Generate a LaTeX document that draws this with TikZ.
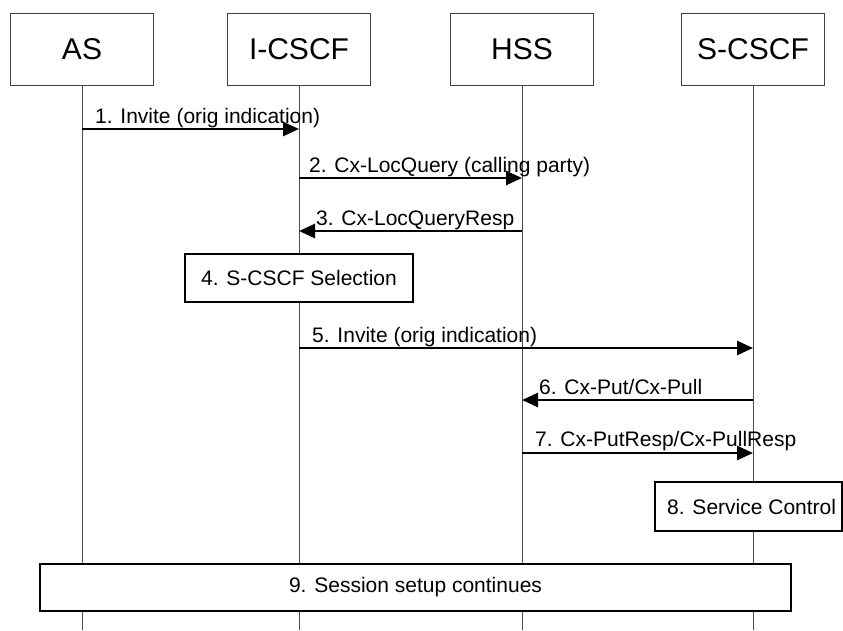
\documentclass[tikz,border=0pt]{standalone}
\usepackage{fontspec}
\setmainfont{Liberation Sans}
\usetikzlibrary{arrows.meta}
\begin{document}
\begin{tikzpicture}[x=1pt,y=-1pt,
  head/.style={draw=black!75,line width=0.8pt,fill=white,minimum width=143pt,minimum height=72pt,inner sep=0pt,font=\fontsize{30}{36}\selectfont},
  life/.style={draw=black!70,line width=0.8pt},
  msg/.style={line width=2.6pt,-{Triangle[length=16pt,width=14pt]}},
  lbl/.style={anchor=base west,inner sep=0pt,font=\fontsize{21}{25}\selectfont},
  proc/.style={draw=black,line width=1.8pt,fill=white,inner sep=0pt,font=\fontsize{21}{25}\selectfont}]
\useasboundingbox (0,0) rectangle (843,630);
% headers
\node[head] (as) at (82,49) {AS};
\node[head] (ic) at (299,49) {I-CSCF};
\node[head] (hss) at (522,49) {HSS};
\node[head] (sc) at (753,49) {S-CSCF};
% lifeline ends
\coordinate (asE) at (82,630);
\coordinate (icE) at (299,630);
\coordinate (hssE) at (522,630);
\coordinate (scE) at (753,630);
\draw[life] (as.south) -- (asE);
\draw[life] (ic.south) -- (icE);
\draw[life] (hss.south) -- (hssE);
\draw[life] (sc.south) -- (scE);
% message rows
\coordinate (m1) at (0,129);
\coordinate (m2) at (0,178);
\coordinate (m3) at (0,231);
\coordinate (m5) at (0,348);
\coordinate (m6) at (0,400);
\coordinate (m7) at (0,453);
\draw[msg] (as |- m1) -- (ic |- m1);
\node[lbl] (l1) at (95,123) {1. Invite (orig indication)};
\draw[msg] (ic |- m2) -- (hss |- m2);
\node[lbl] (l2) at (309,172) {2. Cx-LocQuery (calling party)};
\draw[msg] (hss |- m3) -- (ic |- m3);
\node[lbl] (l3) at (316,225) {3. Cx-LocQueryResp};
\node[proc,minimum width=228pt,minimum height=48pt] (p4) at (299,278) {4. S-CSCF Selection};
\draw[msg] (ic |- m5) -- (sc |- m5);
\node[lbl] (l5) at (312,342) {5. Invite (orig indication)};
\draw[msg] (sc |- m6) -- (hss |- m6);
\node[lbl] (l6) at (539,394) {6. Cx-Put/Cx-Pull};
\draw[msg] (hss |- m7) -- (sc |- m7);
\node[lbl] (l7) at (535,446) {7. Cx-PutResp/Cx-PullResp};
\node[proc,minimum width=187pt,minimum height=49pt] (p8) at (748.5,506.5) {};
\node[lbl] (t8) at (667,514) {8. Service Control};
\node[proc,minimum width=751pt,minimum height=47pt] (p9) at (415.5,587.5) {9. Session setup continues};
\end{tikzpicture}
\end{document}
